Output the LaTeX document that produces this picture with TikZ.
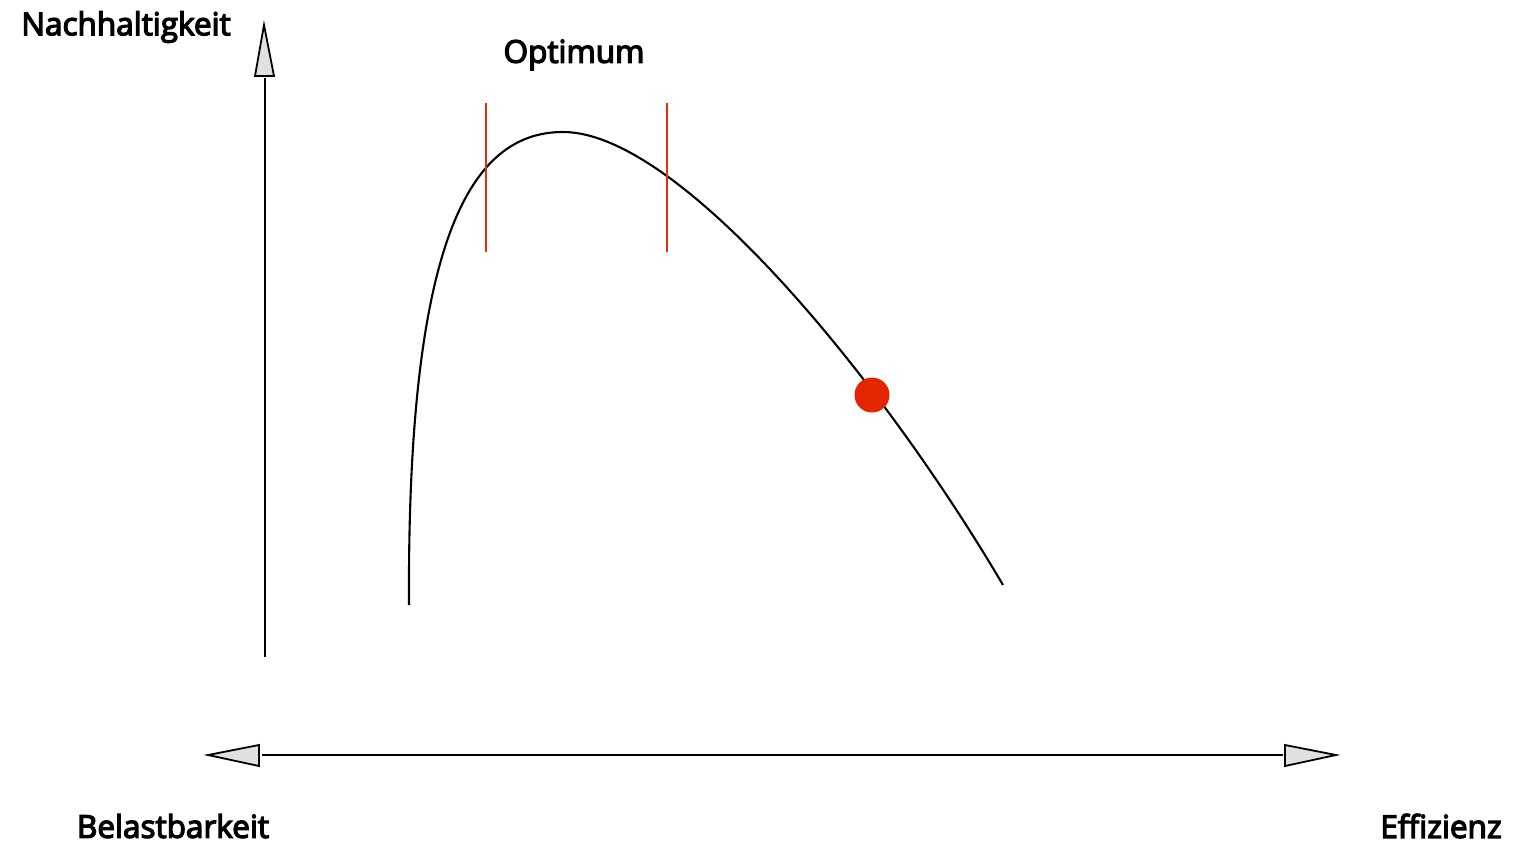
\documentclass[tikz,border=0pt]{standalone}
\usepackage{fontspec}
\setmainfont{Open Sans}
\newfontfamily\lblfont{Open Sans}[FakeBold=4]
\definecolor{redline}{HTML}{E03010}
\definecolor{dotred}{HTML}{E32600}
\definecolor{headgray}{HTML}{E0E0E0}
\begin{document}
\begin{tikzpicture}[x=1pt,y=-1pt,
  axis/.style={line width=2.1pt,black},
  head/.style={line width=1.8pt,draw=black,fill=headgray,line join=miter},
  lbl/.style={font=\lblfont\fontsize{31.5}{36}\selectfont,inner sep=0pt},
  mark line/.style={line width=2.2pt,redline}]
\useasboundingbox (0,0) rectangle (1513,844);
% axes
\coordinate (xl) at (262,755);
\coordinate (xr) at (1283,755);
\coordinate (yb) at (265,657);
\coordinate (yt) at (265,78);
\draw[axis] (xl) -- (xr);
\draw[axis] (yb) -- (yt);
\draw[head] (208,755) -- (259,745) -- (259,766) -- cycle;
\draw[head] (1336,755) -- (1285,745) -- (1285,766) -- cycle;
\draw[head] (264,25) -- (255,76) -- (274,76) -- cycle;
% curve
\coordinate (c0) at (409,605);
\coordinate (peak) at (563,132);
\coordinate (c1) at (1003,585);
\draw[line width=2.1pt] (c0) .. controls (407,240) and (470,132) .. (peak)
  .. controls (680,132) and (883,381) .. (c1);
% optimum marks
\draw[mark line] (486,103) -- (486,252);
\draw[mark line] (667,103) -- (667,252);
\fill[dotred] (872,395) circle (17.5);
% labels
\node[lbl] (ny) at (126,27) {Nachhaltigkeit};
\node[lbl] (opt) at (574,55) {Optimum};
\node[lbl] (bel) at (173,826) {Belastbarkeit};
\node[lbl] (eff) at (1441,826) {Effizienz};
\end{tikzpicture}
\end{document}
